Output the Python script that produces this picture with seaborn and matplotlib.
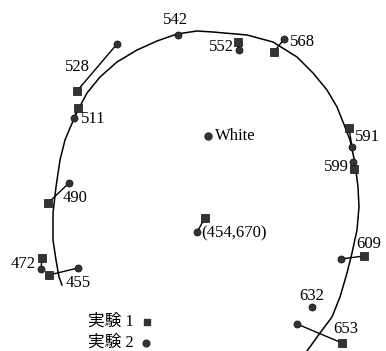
import matplotlib
matplotlib.use("Agg")
import matplotlib.pyplot as plt
import seaborn as sns
import pandas as pd
import numpy as np

# spectral locus (x right, y down)
locus_x = [62, 59, 56, 53, 53, 56, 60, 65, 70, 78, 87, 100, 117, 137, 157, 177, 197,
           213, 247, 273, 297, 313, 327, 337, 345, 350, 355, 358, 359, 357, 352, 347,
           340, 332, 320, 307]
locus_y = [285, 277, 260, 240, 213, 187, 160, 140, 128, 110, 93, 77, 62, 50, 41, 34, 31,
           32, 35, 42, 57, 73, 90, 107, 127, 140, 163, 187, 207, 230, 253, 273,
           297, 317, 333, 351]

labels = ['455', '472', '490', '511', '528', '542', '552', '568', '591', '599',
          '609', '632', '653', '(454,670)']
exp1_x = [49, 42, 48, 78, 77, np.nan, 238, 274, 349, 354, 364, np.nan, 342, 205]
exp1_y = [275, 258, 203, 108, 91, np.nan, 42, 52, 128, 169, 256, np.nan, 343, 218]
exp2_x = [78, 41, 69, 74, 117, 178, 239, 284, 352, 353, 341, 312, 297, 197]
exp2_y = [268, 269, 183, 118, 44, 35, 50, 39, 147, 162, 259, 307, 324, 232]

white_x, white_y = 208, 136

# label placement (text position, alignment)
label_pos = {
    '455': (66, 283, 'left'), '472': (36, 264, 'right'), '490': (63, 198, 'left'),
    '511': (81, 119, 'left'), '528': (77, 67, 'center'), '542': (175, 20, 'center'),
    '552': (234, 47, 'right'), '568': (290, 42, 'left'), '591': (355, 137, 'left'),
    '599': (349, 167, 'right'), '609': (356, 244, 'left'), '632': (312, 296, 'center'),
    '653': (333, 329, 'left'), '(454,670)': (201, 233, 'left'),
}

plt.rcParams['font.family'] = ['Liberation Serif', 'Noto Sans CJK JP']

fig = plt.figure(figsize=(3.86, 3.51), dpi=100)
ax = fig.add_axes([0, 0, 1, 1])

locus = pd.DataFrame({'x': locus_x, 'y': locus_y})
sns.lineplot(data=locus, x='x', y='y', sort=False, estimator=None, color='black',
             linewidth=1.1, ax=ax)

pairs = []
for i, lab in enumerate(labels):
    if not np.isnan(exp1_x[i]):
        pairs.append({'lab': lab, 'x': exp1_x[i], 'y': exp1_y[i]})
        pairs.append({'lab': lab, 'x': exp2_x[i], 'y': exp2_y[i]})
pairs = pd.DataFrame(pairs)
sns.lineplot(data=pairs, x='x', y='y', units='lab', estimator=None, sort=False,
             color='black', linewidth=1.0, ax=ax)

e1 = pd.DataFrame({'x': exp1_x, 'y': exp1_y}).dropna()
e2 = pd.DataFrame({'x': exp2_x, 'y': exp2_y})
sns.scatterplot(data=e1, x='x', y='y', marker='s', s=28, color='#333333',
                edgecolor='#111111', linewidth=0.5, ax=ax, zorder=3)
sns.scatterplot(data=e2, x='x', y='y', marker='o', s=26, color='#333333',
                edgecolor='#111111', linewidth=0.5, ax=ax, zorder=3)
ax.scatter([white_x], [white_y], marker='o', s=26, color='#333333', zorder=3)
ax.text(white_x + 7, white_y, 'White', fontsize=12, va='center', ha='left')

for lab in labels:
    tx, ty, ha = label_pos[lab]
    ax.text(tx, ty, lab, fontsize=12, ha=ha, va='center')

# legend drawn as text with sample markers
ax.text(134, 322, '実験 1', fontsize=12, ha='right', va='center')
ax.text(134, 343, '実験 2', fontsize=12, ha='right', va='center')
ax.scatter([147], [322], marker='s', s=24, color='#333333')
ax.scatter([146], [343], marker='o', s=24, color='#333333')

ax.set_xlim(0, 386)
ax.set_ylim(351, 0)
ax.axis('off')

fig.savefig('out.png', dpi=100, facecolor='white')
